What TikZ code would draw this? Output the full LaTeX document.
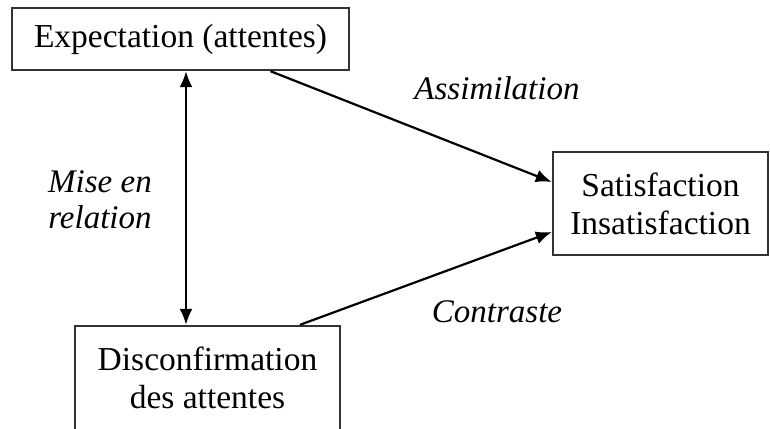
\documentclass[tikz,border=0pt]{standalone}
\usepackage{fontspec}
\setmainfont{Liberation Serif}
\usetikzlibrary{arrows.meta}
\usetikzlibrary{positioning}
\tikzset{box/.style = {draw = black!80, line width = 2.4pt, fill = white,
                       align = center, inner sep = 0,
                       font = \fontsize{33.5}{38}\selectfont}}
\tikzset{lbl/.style = {align = center, font = \fontsize{33}{36}\selectfont\itshape}}
\tikzset{arr/.style = {line width = 2.2pt, -{Latex[length = 16pt, width = 13pt]}}}
\tikzset{arrr/.style = {line width = 2.2pt, {Latex[length = 16pt, width = 13pt]}-{Latex[length = 16pt, width = 13pt]}}}

\begin{document}
\begin{tikzpicture}[x = 1pt, y = -1pt]
      \useasboundingbox (0, 0) rectangle (770, 428);
      \node [box, minimum width = 337, minimum height = 62] (expect) at (180.5, 39) {Expectation (attentes)};
      \node [box, minimum width = 215, minimum height = 103] (satis) at (660.5, 203.5) {Satisfaction\\Insatisfaction};
      \node [box, minimum width = 265, minimum height = 104] (disc) at (207.5, 378) {Disconfirmation\\des attentes};
      \node [lbl] (assim) at (497, 88) {Assimilation};
      \node [lbl] (contr) at (497, 312) {Contraste};
      \node [lbl] (mise) at (100, 200) {Mise en\\relation};
      \draw [arrr] ([xshift = 5.5]expect.south) -- ([xshift = 5.5]expect.south |- disc.north);
      \draw [arr] ([xshift = 90]expect.south) -- ([yshift = 21.5]satis.west);
      \draw [arr] ([xshift = 92.5]disc.north) -- ([yshift = -28.5]satis.west);
    \end{tikzpicture}
\end{document}
